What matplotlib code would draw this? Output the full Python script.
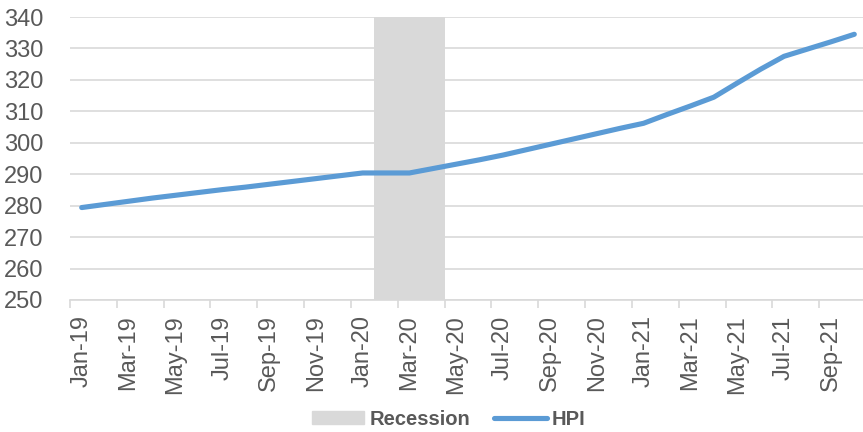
import numpy as np
import matplotlib
matplotlib.use("Agg")
from matplotlib import pyplot as plt
from matplotlib.patches import Patch
from matplotlib.lines import Line2D

plt.rcParams['font.family'] = ['Liberation Sans Narrow', 'Liberation Sans', 'DejaVu Sans']

# monthly, Jan-19 .. Oct-21
months = ['Jan-19', 'Feb-19', 'Mar-19', 'Apr-19', 'May-19', 'Jun-19', 'Jul-19', 'Aug-19',
          'Sep-19', 'Oct-19', 'Nov-19', 'Dec-19',
          'Jan-20', 'Feb-20', 'Mar-20', 'Apr-20', 'May-20', 'Jun-20', 'Jul-20', 'Aug-20',
          'Sep-20', 'Oct-20', 'Nov-20', 'Dec-20',
          'Jan-21', 'Feb-21', 'Mar-21', 'Apr-21', 'May-21', 'Jun-21', 'Jul-21', 'Aug-21',
          'Sep-21', 'Oct-21']
hpi = [279.4, 280.4, 281.4, 282.4, 283.3, 284.2, 285.1, 285.9, 286.8, 287.7, 288.6, 289.5,
       290.4, 290.4, 290.4, 291.8, 293.2, 294.6, 296.1, 297.8, 299.5, 301.2, 302.9, 304.6,
       306.2, 309.0, 311.7, 314.5, 319.0, 323.4, 327.5, 329.8, 332.1, 334.5]
recession = [0] * 13 + [1, 1, 1] + [0] * 18

blue = '#5B9BD5'
grey = '#D9D9D9'
txt = '#595959'

fig = plt.figure(figsize=(8.63, 4.32), dpi=100)
ax = fig.add_axes([70 / 863, 132 / 432, 796 / 863, 283 / 432])

x = np.arange(len(months))
ymin, ymax = 250, 340
ax.bar(x, np.array(recession) * ymax, width=1.0, color=grey, zorder=1)
ax.plot(x, hpi, color=blue, lw=3.7, solid_capstyle='round', solid_joinstyle='round', zorder=3)

ax.set_ylim(ymin, ymax)
ax.set_xlim(-0.5, len(months) - 0.5)
ax.set_yticks(np.arange(ymin, ymax + 1, 10))
ax.yaxis.grid(True, color=grey, lw=1.2, zorder=0)
ax.set_axisbelow(True)

# tick marks on category boundaries, labels on category centres
ax.set_xticks(np.arange(-0.5, len(months) - 1, 2))
ax.set_xticklabels([])
ax.set_xticks(x[::2], minor=True)
ax.set_xticklabels(months[::2], minor=True, rotation=90, fontsize=17, color=txt)
ax.tick_params(axis='x', which='major', length=6, width=1.2, color=grey, direction='out')
ax.tick_params(axis='x', which='minor', length=0, pad=11)
ax.tick_params(axis='y', length=0, pad=19, labelsize=17, labelcolor=txt)

for s in ['top', 'right', 'left']:
    ax.spines[s].set_visible(False)
ax.spines['bottom'].set_color(grey)
ax.spines['bottom'].set_linewidth(1.2)

handles = [Patch(color=grey, label='Recession'),
           Line2D([], [], color=blue, lw=3.7, solid_capstyle='round', label='HPI')]
fig.legend(handles=handles, loc='center', bbox_to_anchor=(0.52, 0.03), ncol=2, frameon=False,
           prop={'size': 14.5, 'weight': 'bold'}, labelcolor=txt, handlelength=2.6,
           handletextpad=0.25, columnspacing=1.2, handleheight=0.65)

fig.savefig('out.png', dpi=100)
